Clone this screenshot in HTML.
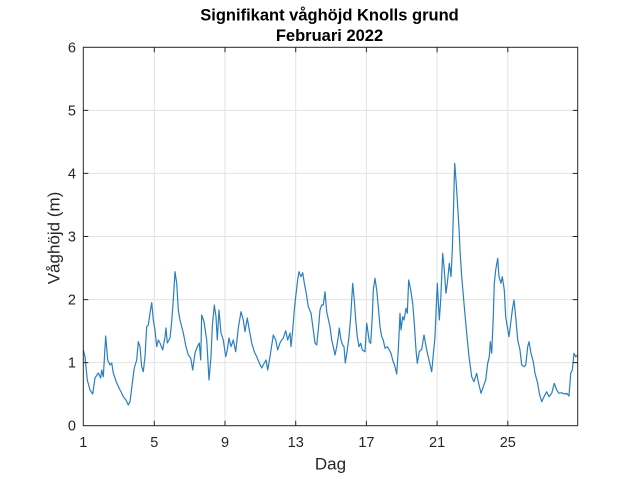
<!DOCTYPE html>
<html><head><meta charset="utf-8"><style>
html,body{margin:0;padding:0;background:#fff;}
svg{display:block;font-family:"Liberation Sans",Arial,sans-serif;}
</style></head><body>
<svg width="639" height="479" viewBox="0 0 639 479" xmlns="http://www.w3.org/2000/svg">
<rect width="639" height="479" fill="#fff"/>
<g stroke="#e3e3e3" stroke-width="1">
<line x1="154.3" y1="47.3" x2="154.3" y2="425.7"/>
<line x1="225" y1="47.3" x2="225" y2="425.7"/>
<line x1="295.7" y1="47.3" x2="295.7" y2="425.7"/>
<line x1="366.4" y1="47.3" x2="366.4" y2="425.7"/>
<line x1="437.1" y1="47.3" x2="437.1" y2="425.7"/>
<line x1="507.8" y1="47.3" x2="507.8" y2="425.7"/>
<line x1="83.3" y1="362.6" x2="577.7" y2="362.6"/>
<line x1="83.3" y1="299.6" x2="577.7" y2="299.6"/>
<line x1="83.3" y1="236.5" x2="577.7" y2="236.5"/>
<line x1="83.3" y1="173.4" x2="577.7" y2="173.4"/>
<line x1="83.3" y1="110.4" x2="577.7" y2="110.4"/>
</g>
<polyline fill="none" stroke="#2a7fc0" stroke-width="1.2" stroke-linejoin="round" points="
83.3,350 85,356.7 87.3,380 90,390 92.7,394 95,378 98.3,373 100.7,378 101.7,370 103.3,376.7 105.7,336 107.7,360 110,365 111.7,363 113.3,373 116.7,383 120,390 121.7,393 123.3,396.7 126,400 128.3,405 130,401.7 132.7,380 134.3,368 136.7,360 138.3,341.7 140,346.7 141.7,366.7 143.3,371.7 145,356.7 146.7,326.7 148.3,325 150,313 151.7,302.7 153.3,320 155,330 156.7,346.7 158.3,340 160,343 162.7,350 165,336.7 166,328 167.3,343 170,338 171.7,321.7 173.3,300 175,271.7 176.7,283 178.3,310 180,320 183.3,333 186,346.7 188.3,355 190.7,358 192.7,370 195,353 197.3,346.7 199.3,343 200.7,360 201.7,315 204,321.7 206.7,340 207.7,356.7 209,380 211,356.7 212.3,326.7 214.3,305 216,316.7 217.3,340 219,310 221,333 223.3,340 225.7,356.7 227.3,350 229,338 231,346.7 233.3,340 235.7,351.7 238.3,328 241,311.7 243.3,320 245,331.7 247.3,318 249.3,330 251.7,343 254.3,351.7 256.7,356.7 259.3,363 261.7,368 264.3,363 266,360 267.7,370 270,356.7 273.3,335 275.7,340 277.7,350 280,343 281.7,340 283.3,338 285.7,330.7 287.7,340 290,333 291,346.7 292.7,330 294.3,310 295.7,296.7 297.7,280 299,271.7 301,276.7 302.7,272.7 304.3,283 306,291.7 308.3,306.7 311,313 313.3,330 315,343 316.7,345 318.3,330 320,310 321.7,305 323.3,305 325,291.7 326.7,311.7 330,326.7 331.7,340 333.3,346.7 335,355 336.7,346.7 338.3,336.7 339.3,328 341,340 342.7,345 344,346.7 345.3,363 347.3,350 349,336.7 350.7,316.7 352.7,283.3 354.3,300 355.7,320 357.3,336.7 359,346.7 360.7,343.3 362.3,350 365,351.7 366.7,323.3 367.7,330 369.3,341.7 370.7,343.3 372.3,316.7 373.3,290 375,278.3 376.7,290 378.3,306.7 380,326.7 381.7,336.7 383.3,340 385,348.3 387.3,346.7 389.3,350 391,353.3 392.7,360 395,366.7 396.7,374 398.3,350 400,313.3 401,330 402.7,316.7 404,320 406,308.3 407.3,313.3 408.7,280 410.7,290 412.7,303.3 414.3,323.3 416,350 417.3,363.3 419.3,351.7 421.7,349.3 424,335 426.7,350 429,360 431.7,371.7 435,336.7 437.3,283.3 439.3,320 440.7,300 442.7,253.3 444,266.7 446,293.3 447.3,283.3 449.3,263.3 451,276.7 452.3,250 453.3,216.7 454.7,163.3 456,180 457.3,200 459.3,233.3 460,250 461.7,276.7 464.3,306.7 466.7,333.3 469,356.7 471.7,376.7 474,381.7 476.7,373.3 478.3,381.7 481,393.3 483.3,386.7 485.7,380 487.7,363.3 489.3,356.7 490.3,341.7 491.7,353.3 493.3,316.7 494.3,283.3 495.7,270 497.7,258.3 499,276.7 501,283.3 502.3,276.7 504.3,290 505.7,316.7 507.3,326.7 509,336.7 510.7,323.3 512.3,310 514,300 515.7,316.7 517.7,340 520,350 521.7,365 524,366.7 525.7,365 527.7,346.7 529,341.7 531,353.3 533.3,361.7 535,373.3 537.7,383.3 539.3,393.3 541.7,401.7 544,396.7 546.7,391.7 549,396.7 551.7,393.3 554.3,383.3 556.7,390 559,393.3 561.7,392.7 564.3,394 566.7,393.3 569,396 570.7,373.3 572.3,370 574,353.3 575.7,356.7 577.7,355"/>
<g stroke="#262626" stroke-width="1" fill="none">
<rect x="83.3" y="47.3" width="494.4" height="378.4"/>
<path d="M154.3 425.7v-5M225 425.7v-5M295.7 425.7v-5M366.4 425.7v-5M437.1 425.7v-5M507.8 425.7v-5
M154.3 47.3v5M225 47.3v5M295.7 47.3v5M366.4 47.3v5M437.1 47.3v5M507.8 47.3v5
M83.3 362.6h5M83.3 299.6h5M83.3 236.5h5M83.3 173.4h5M83.3 110.4h5
M577.7 362.6h-5M577.7 299.6h-5M577.7 236.5h-5M577.7 173.4h-5M577.7 110.4h-5"/>
</g>
<g fill="#262626" font-size="14.5" text-anchor="end">
<text x="76" y="430.7">0</text>
<text x="76" y="367.6">1</text>
<text x="76" y="304.6">2</text>
<text x="76" y="241.5">3</text>
<text x="76" y="178.4">4</text>
<text x="76" y="115.4">5</text>
<text x="76" y="52.3">6</text>
</g>
<g fill="#262626" font-size="14.5" text-anchor="middle">
<text x="83.3" y="446.8">1</text>
<text x="154.3" y="446.8">5</text>
<text x="225" y="446.8">9</text>
<text x="295.7" y="446.8">13</text>
<text x="366.4" y="446.8">17</text>
<text x="437.1" y="446.8">21</text>
<text x="507.8" y="446.8">25</text>
</g>
<text x="330.5" y="469.5" font-size="17" fill="#262626" text-anchor="middle">Dag</text>
<text transform="translate(59.5,238) rotate(-90)" font-size="17" fill="#262626" text-anchor="middle">Våghöjd (m)</text>
<text x="329.5" y="20.7" font-size="16.5" font-weight="bold" fill="#000" text-anchor="middle">Signifikant våghöjd Knolls grund</text>
<text x="329.5" y="41" font-size="16.5" font-weight="bold" fill="#000" text-anchor="middle">Februari 2022</text>
</svg>
</body></html>
